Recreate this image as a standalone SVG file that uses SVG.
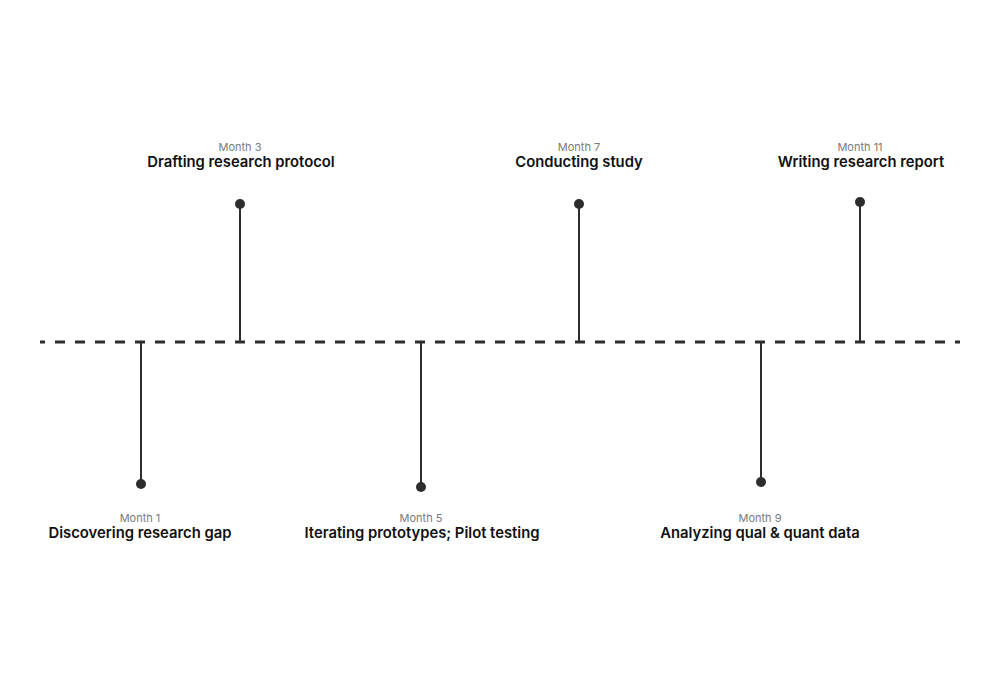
<svg xmlns="http://www.w3.org/2000/svg" width="1000" height="688" viewBox="0 0 1000 688">
<style>
.month{font-family:Inter,"Liberation Sans",sans-serif;font-size:11px;fill:#7a7a7a;text-anchor:middle}
.title{font-family:Inter,"Liberation Sans",sans-serif;font-size:14.8px;font-weight:600;fill:#111;text-anchor:middle}
.stem{stroke:#2d2d2d;stroke-width:2}
.dot{fill:#2d2d2d}
</style>
<rect width="1000" height="688" fill="#fff"/>
<g id="connectors">
<line x1="40" y1="342" x2="960" y2="342" stroke="#2d2d2d" stroke-width="3" stroke-dasharray="10 10" stroke-dashoffset="5"/>
</g>
<g id="m1"><line class="stem" x1="141" y1="342" x2="141" y2="484"/><circle class="dot" cx="141" cy="484" r="5"/><text class="month" x="140" y="522">Month 1</text><text class="title" x="140" y="538">Discovering research gap</text></g>
<g id="m3"><line class="stem" x1="240" y1="342" x2="240" y2="204"/><circle class="dot" cx="240" cy="204" r="5"/><text class="month" x="240" y="151">Month 3</text><text class="title" x="241" y="167">Drafting research protocol</text></g>
<g id="m5"><line class="stem" x1="421" y1="342" x2="421" y2="487"/><circle class="dot" cx="421" cy="487" r="5"/><text class="month" x="421" y="522">Month 5</text><text class="title" x="422" y="538">Iterating prototypes; Pilot testing</text></g>
<g id="m7"><line class="stem" x1="579" y1="342" x2="579" y2="204"/><circle class="dot" cx="579" cy="204" r="5"/><text class="month" x="579" y="151">Month 7</text><text class="title" x="579" y="167">Conducting study</text></g>
<g id="m9"><line class="stem" x1="761" y1="342" x2="761" y2="482"/><circle class="dot" cx="761" cy="482" r="5"/><text class="month" x="760" y="522">Month 9</text><text class="title" x="760" y="538">Analyzing qual &amp; quant data</text></g>
<g id="m11"><line class="stem" x1="860" y1="342" x2="860" y2="202"/><circle class="dot" cx="860" cy="202" r="5"/><text class="month" x="860" y="151">Month 11</text><text class="title" x="861" y="167">Writing research report</text></g>
</svg>
